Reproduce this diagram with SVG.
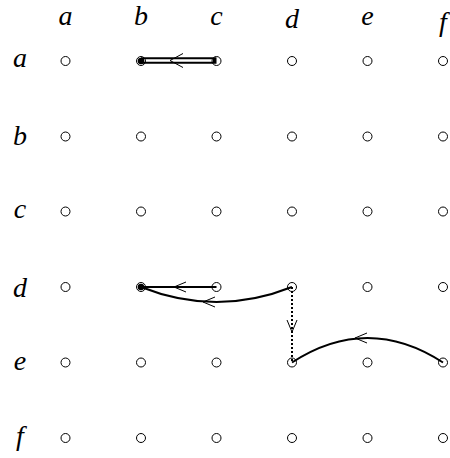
<svg xmlns="http://www.w3.org/2000/svg" width="450" height="458" viewBox="0 0 450 458">
<style>
.lbl{font-family:"Liberation Serif","DejaVu Serif",serif;font-style:italic;font-size:28px;fill:#000;text-anchor:middle}
.pt{fill:none;stroke:#000;stroke-width:1}
.e{fill:none;stroke:#000;stroke-width:2}
.ah{fill:none;stroke:#000;stroke-width:1}
</style>
<rect width="450" height="458" fill="#fff"/>
<g id="headers">
<text class="lbl" x="65.5" y="25">a</text>
<text class="lbl" x="141" y="25">b</text>
<text class="lbl" x="216.5" y="25">c</text>
<text class="lbl" x="292" y="28">d</text>
<text class="lbl" x="367.5" y="25">e</text>
<text class="lbl" x="443" y="31">f</text>
<text class="lbl" x="20" y="67">a</text>
<text class="lbl" x="20" y="145">b</text>
<text class="lbl" x="20" y="218">c</text>
<text class="lbl" x="20" y="297">d</text>
<text class="lbl" x="20" y="370">e</text>
<text class="lbl" x="20" y="445">f</text>
</g>
<g id="connectors">
<line x1="141" y1="60.5" x2="216.5" y2="60.5" stroke="#000" stroke-width="6.5"/>
<line x1="144" y1="60.5" x2="213" y2="60.5" stroke="#fff" stroke-width="2.5"/>
<path class="ah" d="M183,53.5 L170,60.5 L183,67.5"/>
<line class="e" x1="141" y1="287" x2="216.5" y2="287"/>
<path class="ah" d="M186,282 L174,287 L186,292"/>
<path class="e" d="M292,287 Q216.5,317 141,287"/>
<path class="ah" d="M215,297 L203,302 L215,307"/>
<line x1="292" y1="287" x2="292" y2="362.5" stroke="#000" stroke-width="2" stroke-dasharray="2,2"/>
<path class="ah" d="M287,320 L292,332 L297,320"/>
<path class="e" d="M443,362.5 Q367.5,313.5 292,362.5"/>
<path class="ah" d="M367,333 L355,338 L367,343"/>
</g>
<g id="nodes">
<circle class="pt" cx="65.5" cy="61" r="4.5"/><circle class="pt" cx="141" cy="61" r="4.5"/><circle class="pt" cx="216.5" cy="61" r="4.5"/><circle class="pt" cx="292" cy="61" r="4.5"/><circle class="pt" cx="367.5" cy="61" r="4.5"/><circle class="pt" cx="443" cy="61" r="4.5"/>
<circle class="pt" cx="65.5" cy="136.5" r="4.5"/><circle class="pt" cx="141" cy="136.5" r="4.5"/><circle class="pt" cx="216.5" cy="136.5" r="4.5"/><circle class="pt" cx="292" cy="136.5" r="4.5"/><circle class="pt" cx="367.5" cy="136.5" r="4.5"/><circle class="pt" cx="443" cy="136.5" r="4.5"/>
<circle class="pt" cx="65.5" cy="211.5" r="4.5"/><circle class="pt" cx="141" cy="211.5" r="4.5"/><circle class="pt" cx="216.5" cy="211.5" r="4.5"/><circle class="pt" cx="292" cy="211.5" r="4.5"/><circle class="pt" cx="367.5" cy="211.5" r="4.5"/><circle class="pt" cx="443" cy="211.5" r="4.5"/>
<circle class="pt" cx="65.5" cy="287" r="4.5"/><circle class="pt" cx="141" cy="287" r="4.5"/><circle class="pt" cx="216.5" cy="287" r="4.5"/><circle class="pt" cx="292" cy="287" r="4.5"/><circle class="pt" cx="367.5" cy="287" r="4.5"/><circle class="pt" cx="443" cy="287" r="4.5"/>
<circle class="pt" cx="65.5" cy="362.5" r="4.5"/><circle class="pt" cx="141" cy="362.5" r="4.5"/><circle class="pt" cx="216.5" cy="362.5" r="4.5"/><circle class="pt" cx="292" cy="362.5" r="4.5"/><circle class="pt" cx="367.5" cy="362.5" r="4.5"/><circle class="pt" cx="443" cy="362.5" r="4.5"/>
<circle class="pt" cx="65.5" cy="438" r="4.5"/><circle class="pt" cx="141" cy="438" r="4.5"/><circle class="pt" cx="216.5" cy="438" r="4.5"/><circle class="pt" cx="292" cy="438" r="4.5"/><circle class="pt" cx="367.5" cy="438" r="4.5"/><circle class="pt" cx="443" cy="438" r="4.5"/>
<circle cx="141" cy="61" r="3.3" fill="#000"/>
<circle cx="141" cy="287" r="3.3" fill="#000"/>
</g>
</svg>
